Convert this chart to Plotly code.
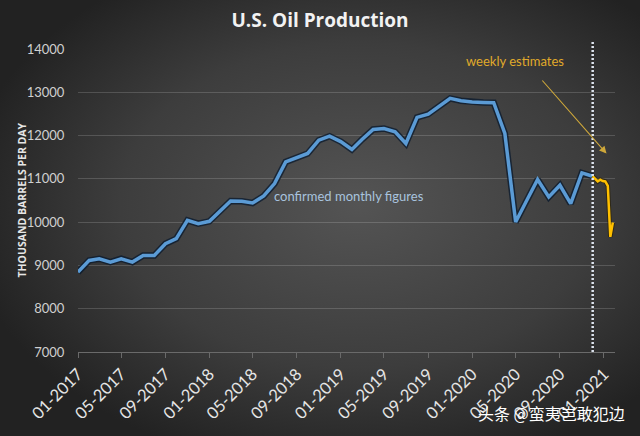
import base64
import plotly.graph_objects as go

# ---------------- data ----------------
months = [f"{y}-{m:02d}-01" for y in range(2017, 2021) for m in range(1, 13)]
monthly = [8845, 9116, 9155, 9077, 9155, 9077, 9231, 9231, 9502, 9618, 10042, 9965,
           10019, 10273, 10488, 10481, 10442, 10604, 10891, 11392, 11484, 11586, 11894, 11986,
           11860, 11678, 11910, 12141, 12164, 12086, 11817, 12419, 12495, 12681, 12859, 12804,
           12773, 12766, 12758, 12049, 10003, 10505, 10984, 10581, 10852, 10428, 11137, 11060]

weeks = ["2020-12-01", "2020-12-08", "2020-12-15", "2020-12-22", "2020-12-29",
         "2021-01-05", "2021-01-12", "2021-01-19", "2021-01-26"]
weekly = [11060, 10990, 10940, 10980, 10950, 10940, 10840, 9660, 9990]

tick_vals = ["2017-01-01", "2017-05-01", "2017-09-01", "2018-01-01", "2018-05-01",
             "2018-09-01", "2019-01-01", "2019-05-01", "2019-09-01", "2020-01-01",
             "2020-05-01", "2020-09-01", "2021-01-01"]
tick_text = ["01-2017", "05-2017", "09-2017", "01-2018", "05-2018", "09-2018",
             "01-2019", "05-2019", "09-2019", "01-2020", "05-2020", "09-2020", "01-2021"]
y_ticks = [7000, 8000, 9000, 10000, 11000, 12000, 13000, 14000]
y_text = ["7000", "8000", "9000", "10000", "11000", "12000", "13000", "14000"]
split_date = "2020-12-01"

# ---------------- layout geometry ----------------
W, H = 640, 436
ML, MR, MT, MB = 78, 25, 49, 84
PW, PH = W - ML - MR, H - MT - MB

svg = (
    "<svg xmlns='http://www.w3.org/2000/svg' width='640' height='436' preserveAspectRatio='none'>"
    "<defs><radialGradient id='g' cx='0.56' cy='0.47' r='0.62'>"
    "<stop offset='0' stop-color='#545454'/>"
    "<stop offset='0.6' stop-color='#3d3d3d'/>"
    "<stop offset='1' stop-color='#222222'/>"
    "</radialGradient></defs>"
    "<rect width='640' height='436' fill='url(#g)'/></svg>"
)
bg_src = "data:image/svg+xml;base64," + base64.b64encode(svg.encode()).decode()

fig = go.Figure()

# shadow of monthly line
fig.add_trace(go.Scatter(x=months, y=monthly, mode="lines",
                         line=dict(color="rgba(10,25,45,0.75)", width=6.5),
                         hoverinfo="skip", showlegend=False))
fig.add_trace(go.Scatter(x=months, y=monthly, mode="lines",
                         line=dict(color="#5b9bd5", width=3.5),
                         name="monthly", showlegend=False))
fig.add_trace(go.Scatter(x=weeks, y=weekly, mode="lines",
                         line=dict(color="rgba(40,30,0,0.6)", width=4.5),
                         hoverinfo="skip", showlegend=False))
fig.add_trace(go.Scatter(x=weeks, y=weekly, mode="lines",
                         line=dict(color="#ffc000", width=2.5),
                         name="weekly", showlegend=False))

fig.update_layout(
    width=W, height=H,
    margin=dict(l=ML, r=MR, t=MT, b=MB),
    paper_bgcolor="#333333",
    plot_bgcolor="rgba(0,0,0,0)",
    font=dict(family="Lato, Open Sans, sans-serif", color="#d9d9d9"),
    title=dict(text="<b>U.S. Oil Production</b>", x=0.5, xref="container", xanchor="center",
               y=1 - 20 / H, yanchor="middle",
               font=dict(family="Open Sans, sans-serif", size=19, color="#f2f2f2")),
    xaxis=dict(type="date", range=["2017-01-01", "2021-02-01"],
               tickvals=tick_vals, ticktext=tick_text, tickangle=-45,
               tickfont=dict(size=16.5, color="#e6e6e6", family="Lato, sans-serif"),
               showgrid=False, showline=True, linecolor="#6a6a6a", linewidth=1,
               ticks="outside", ticklen=5, tickcolor="#6a6a6a", zeroline=False),
    yaxis=dict(range=[7000, 14000], tickvals=y_ticks, ticktext=y_text,
               tickfont=dict(size=13, color="#d0d0d0", family="Lato, sans-serif"),
               showgrid=True, gridcolor="rgba(255,255,255,0.16)", gridwidth=1,
               zeroline=False, showline=False,
               ticks="outside", ticklen=10, tickcolor="rgba(0,0,0,0)"),
    images=[dict(source=bg_src, xref="paper", yref="paper",
                 x=-ML / PW, y=1 + MT / PH, sizex=W / PW, sizey=H / PH,
                 sizing="stretch", layer="below", xanchor="left", yanchor="top")],
    shapes=[dict(type="line", xref="x", yref="paper", x0=split_date, x1=split_date,
                 y0=0, y1=1 + 7 / PH,
                 line=dict(color="#dde4ee", width=2.5, dash="2px,2px"))],
    annotations=[
        dict(text="<b>THOUSAND BARRELS PER DAY</b>", textangle=-90,
             xref="paper", yref="paper", x=(21 - ML) / PW, y=0.5,
             xanchor="center", yanchor="middle", showarrow=False,
             font=dict(size=10.5, color="#e6e6e6", family="Open Sans, sans-serif")),
        dict(text="confirmed monthly figures", xref="paper", yref="paper",
             x=(349 - ML) / PW, y=(H - MB - 196) / PH, xanchor="center", yanchor="middle",
             showarrow=False, font=dict(size=13, color="#a8c3de", family="Lato, sans-serif")),
        dict(text="weekly estimates", xref="paper", yref="paper",
             x=(515 - ML) / PW, y=(H - MB - 61) / PH, xanchor="center", yanchor="middle",
             showarrow=False, font=dict(size=13, color="#e0aa2a", family="Lato, sans-serif")),
        dict(text="", xref="paper", yref="paper",
             x=(606.5 - ML) / PW, y=(H - MB - 153.5) / PH,
             ax=541 - 606.5, ay=79 - 153.5, axref="pixel", ayref="pixel",
             showarrow=True, arrowhead=2, arrowsize=1.3, arrowwidth=1.1,
             arrowcolor="#cfa83a"),
        dict(text="头条 @蛮夷岂敢犯边", xref="paper", yref="paper",
             x=(627 - ML) / PW, y=(H - MB - 413) / PH, xanchor="right", yanchor="middle",
             showarrow=False,
             font=dict(size=16, color="#ffffff", family="Noto Sans CJK SC, sans-serif")),
    ],
)

fig.write_html("out.html")
